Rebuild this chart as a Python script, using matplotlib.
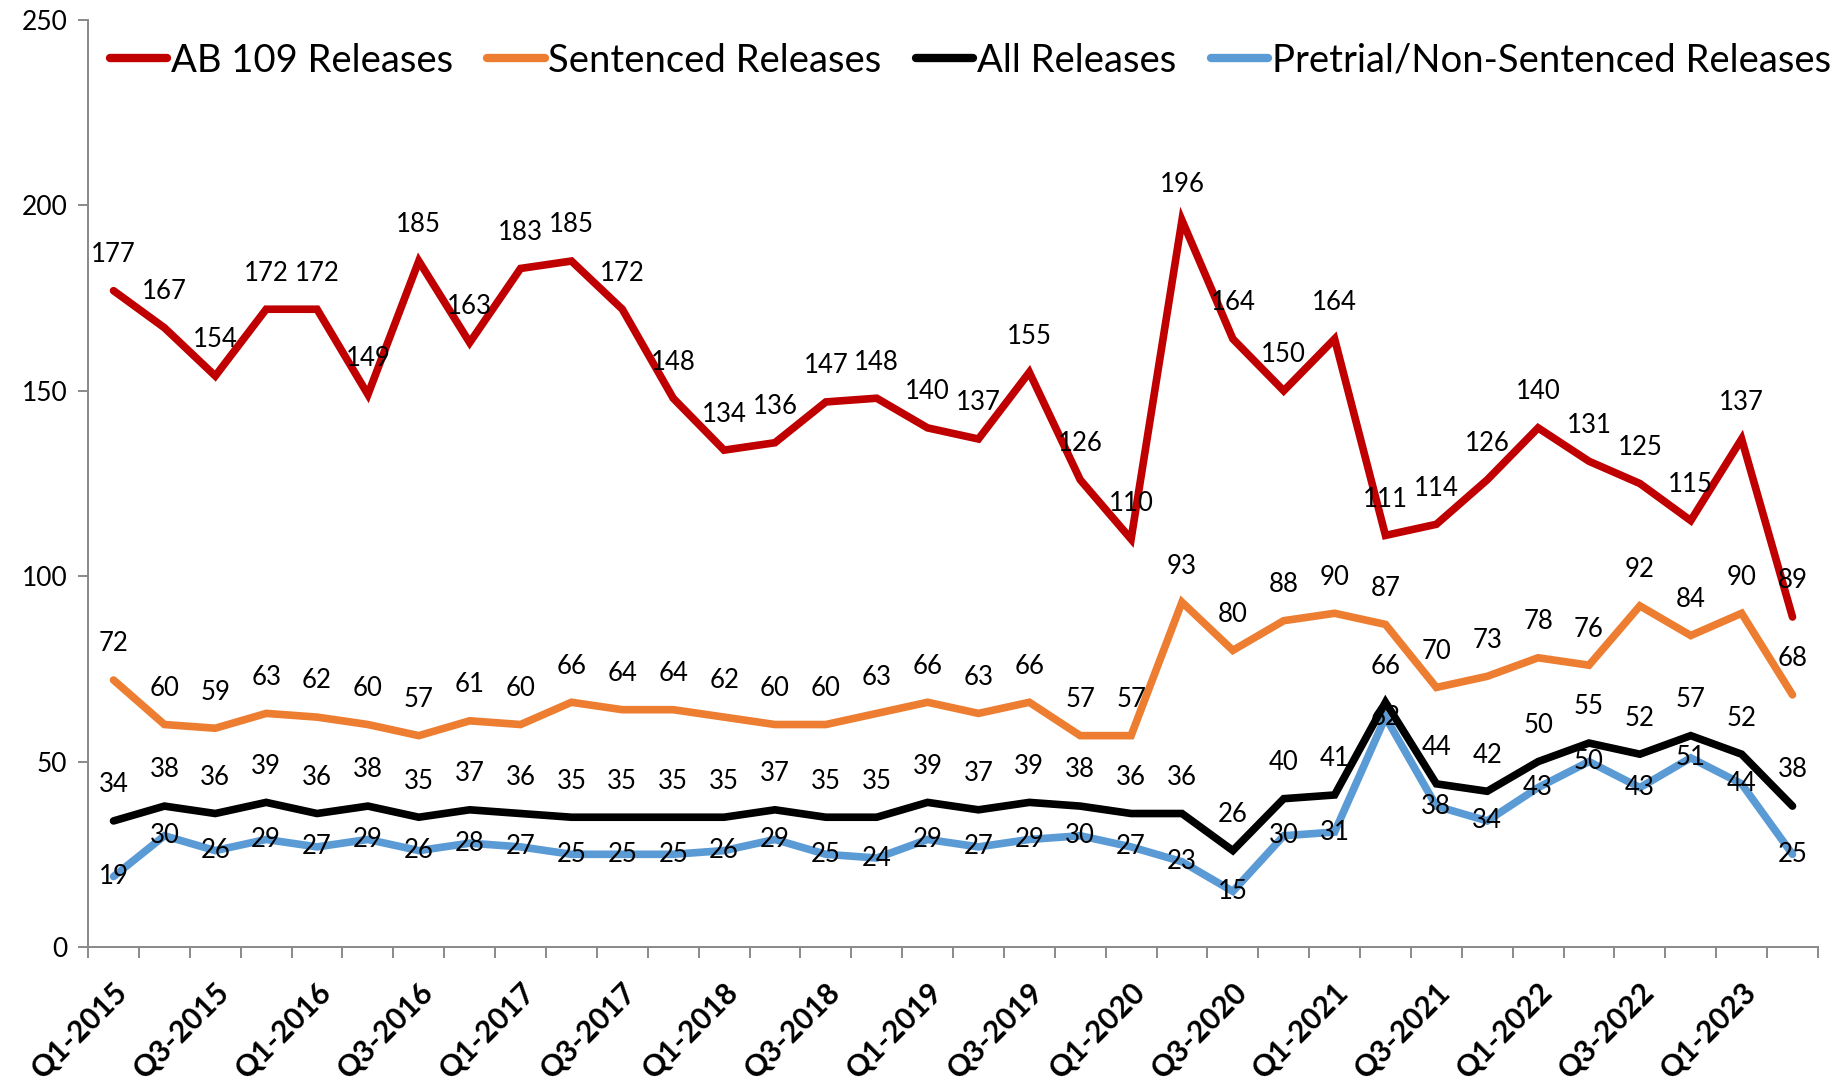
import matplotlib
matplotlib.use("Agg")
import matplotlib.pyplot as plt

plt.rcParams['font.family'] = ['Lato', 'DejaVu Sans']

quarters = [f"Q{q}-{y}" for y in range(2015, 2024) for q in range(1, 5)][:34]

ab109 = [177, 167, 154, 172, 172, 149, 185, 163, 183, 185, 172, 148, 134, 136, 147, 148, 140,
         137, 155, 126, 110, 196, 164, 150, 164, 111, 114, 126, 140, 131, 125, 115, 137, 89]
sentenced = [72, 60, 59, 63, 62, 60, 57, 61, 60, 66, 64, 64, 62, 60, 60, 63, 66,
             63, 66, 57, 57, 93, 80, 88, 90, 87, 70, 73, 78, 76, 92, 84, 90, 68]
all_rel = [34, 38, 36, 39, 36, 38, 35, 37, 36, 35, 35, 35, 35, 37, 35, 35, 39,
           37, 39, 38, 36, 36, 26, 40, 41, 66, 44, 42, 50, 55, 52, 57, 52, 38]
pretrial = [19, 30, 26, 29, 27, 29, 26, 28, 27, 25, 25, 25, 26, 29, 25, 24, 29,
            27, 29, 30, 27, 23, 15, 30, 31, 62, 38, 34, 43, 50, 43, 51, 44, 25]

x = list(range(len(quarters)))

fig = plt.figure(figsize=(18.43, 10.88), dpi=100)
ax = fig.add_axes([0.0478, 0.1296, 0.9386, 0.852])

lw = 5.5
l_pre, = ax.plot(x, pretrial, color='#5B9BD5', lw=lw, solid_capstyle='round',
                 solid_joinstyle='miter', label='Pretrial/Non-Sentenced Releases')
l_all, = ax.plot(x, all_rel, color='#000000', lw=lw, solid_capstyle='round',
                 solid_joinstyle='miter', label='All Releases')
l_sen, = ax.plot(x, sentenced, color='#ED7D31', lw=lw, solid_capstyle='round',
                 solid_joinstyle='miter', label='Sentenced Releases')
l_ab, = ax.plot(x, ab109, color='#C00000', lw=lw, solid_capstyle='round',
                solid_joinstyle='miter', label='AB 109 Releases')

fs = 18.5
for series in (ab109, sentenced, all_rel):
    for xi, v in zip(x, series):
        ax.annotate(str(v), (xi, v), xytext=(0, 26), textcoords='offset points',
                    ha='center', va='center', fontsize=fs)
for xi, v in zip(x, pretrial):
    ax.annotate(str(v), (xi, v), ha='center', va='center', fontsize=fs)

ax.set_xlim(-0.5, len(x) - 0.5)
ax.set_ylim(0, 250)
ax.set_yticks([0, 50, 100, 150, 200, 250])
ax.tick_params(axis='y', labelsize=19, length=7, width=1.4, color='#898989', pad=8)

ax.set_xticks(x[::2])
ax.set_xticklabels(quarters[::2], rotation=45, ha='right', rotation_mode='anchor',
                   fontsize=21.5, fontweight='bold')
ax.set_xticks([i - 0.5 for i in range(len(x) + 1)], minor=True)
ax.tick_params(axis='x', which='major', length=0, pad=22)
ax.tick_params(axis='x', which='minor', length=8, width=1.4, color='#898989')

for s in ('top', 'right'):
    ax.spines[s].set_visible(False)
for s in ('left', 'bottom'):
    ax.spines[s].set_color('#898989')
    ax.spines[s].set_linewidth(1.4)

leg = ax.legend(handles=[l_ab, l_sen, l_all, l_pre], loc='center',
                bbox_to_anchor=(0.51, 0.956), ncol=4, frameon=False, fontsize=27.5,
                handlelength=1.5, handletextpad=0.1, columnspacing=0.9)
for h in leg.get_lines():
    h.set_linewidth(6)

fig.savefig('out.png', dpi=100)
